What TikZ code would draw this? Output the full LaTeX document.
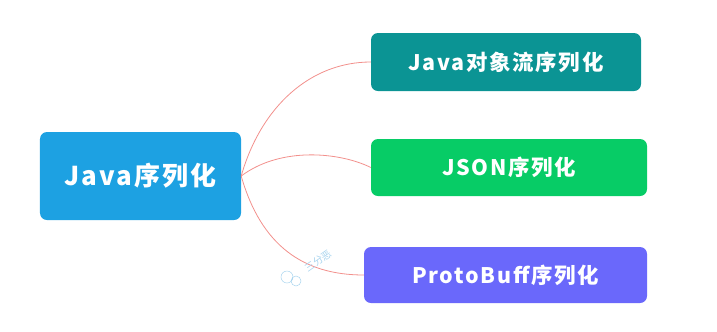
\documentclass[tikz,border=0pt]{standalone}
\usepackage{fontspec}
\usepackage{tikz}
\newfontfamily\cjk{Noto Sans CJK SC}
\newfontfamily\cjkwide{Noto Sans CJK SC}[LetterSpace=8]
\definecolor{rootblue}{HTML}{1DA1E2}
\definecolor{streamteal}{HTML}{0B9494}
\definecolor{jsongreen}{HTML}{07CC66}
\definecolor{protopurple}{HTML}{6A68FB}
\definecolor{linkred}{HTML}{F2908C}
\definecolor{markblue}{HTML}{A8D4EE}

\begin{document}
\begin{tikzpicture}[x=1bp, y=-1bp,
    box/.style={rounded corners=7bp, text=white, font=\cjkwide\bfseries\fontsize{21.5}{24}\selectfont},
    link/.style={draw=linkred, line width=0.8bp}]
    \useasboundingbox (0,0) rectangle (717,331);

    % root and the three kinds
    \node[box, fill=rootblue, minimum width=201bp, minimum height=88bp,
          font=\cjkwide\bfseries\fontsize{26}{28}\selectfont] (root) at (140.5,176) {Java序列化};
    \foreach \name/\cx/\cy/\w/\h/\col/\txt in {
            stream/506/62/270/58/streamteal/Java对象流序列化,
            json/509/167.5/276/57/jsongreen/JSON序列化,
            proto/505.5/275/283/56/protopurple/ProtoBuff序列化}
        \node[box, fill=\col, minimum width=\w bp, minimum height=\h bp] (\name) at (\cx,\cy) {\txt};

    \draw[link] (root.east) .. controls +(20,-70) and +(-60,0) .. (stream.west);
    \draw[link] (root.east) .. controls +(40,-30) and +(-30,-15) .. (json.west);
    \draw[link] (root.east) .. controls +(20,70) and +(-60,0) .. (proto.west);

    % watermark
    \node[text=markblue, rotate=35, font=\cjk\fontsize{10}{11}\selectfont] (mark) at (318,261) {三分恶};
    \draw[markblue, line width=0.5bp] (287,277) circle (6bp) (296,281) circle (5bp);
\end{tikzpicture}
\end{document}
